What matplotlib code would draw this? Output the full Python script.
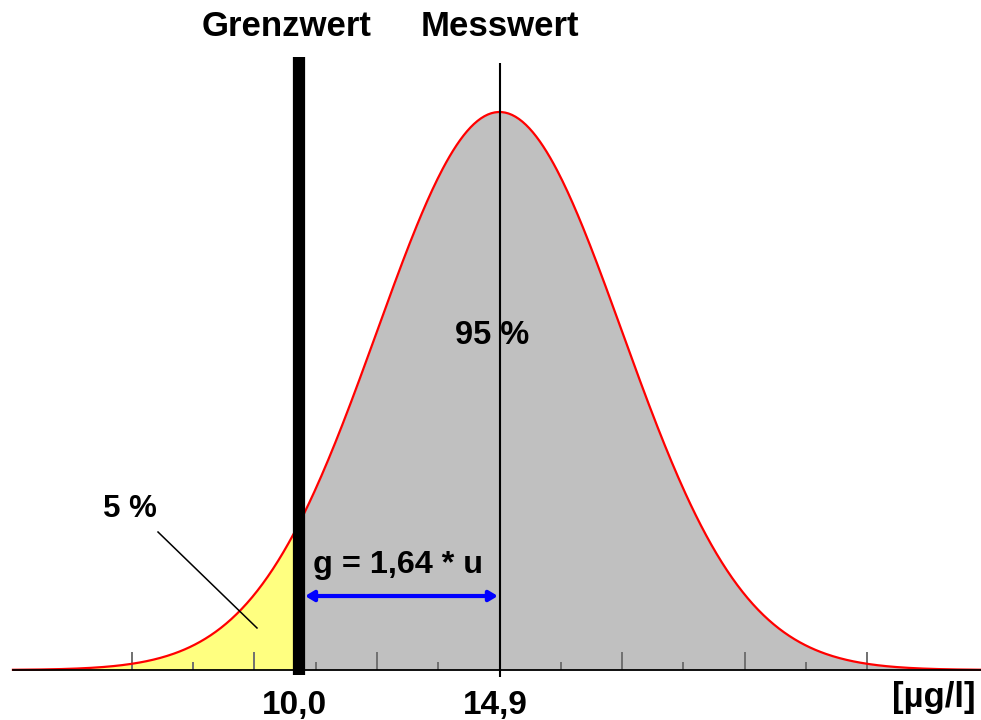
import numpy as np
import matplotlib
matplotlib.use('Agg')
import matplotlib.pyplot as plt

plt.rcParams['font.family'] = ['Liberation Sans', 'DejaVu Sans']

# values
grenzwert = 10.0          # limit value
messwert = 14.9           # measured value
k_factor = 1.64           # one-sided 95 % quantile
tick_labels = ['10,0', '14,9']
unit_label = '[µg/l]'
pct_inside = '95 %'
pct_outside = '5 %'

u = (messwert - grenzwert) / k_factor

x = np.linspace(messwert - 3.97 * u, messwert + 4.5 * u, 600)
dens = np.exp(-0.5 * ((x - messwert) / u) ** 2)

fig = plt.figure(figsize=(9.81, 7.2), dpi=100)
ax = fig.add_axes([0, 0, 1, 1])
ax.set_xlim(2.723, 26.638)
ax.set_ylim(-0.0896, 1.2007)

left = x <= grenzwert
ax.fill_between(x[left], 0, dens[left], color='#ffff80', lw=0, zorder=1)
ax.fill_between(x[~left], 0, dens[~left], color='#c0c0c0', lw=0, zorder=1)
ax.plot(x, dens, color='#ff0000', lw=1.6, zorder=2)

# vertical markers
ax.plot([grenzwert, grenzwert], [-0.009, 1.0986], color='black', lw=8.8,
        solid_capstyle='butt', zorder=4)
ax.plot([messwert, messwert], [-0.012, 1.088], color='black', lw=1.5,
        solid_capstyle='butt', zorder=4)

# axis line with ticks every u and half u
ax.spines['bottom'].set_position(('data', 0))
ax.spines['bottom'].set_bounds(messwert - 3.97 * u, 26.638)
ax.spines['bottom'].set_linewidth(1.3)
ax.spines['bottom'].set_zorder(3)
for s in ['top', 'left', 'right']:
    ax.spines[s].set_visible(False)
ax.set_xticks(messwert + np.arange(-3, 4) * u)
ax.set_xticks(messwert + np.arange(-2.5, 3, 1.0) * u, minor=True)
ax.tick_params(axis='x', which='major', direction='in', length=13, width=1.4,
               color='#707070', labelbottom=False)
ax.tick_params(axis='x', which='minor', direction='in', length=5.8, width=1.4,
               color='#707070', labelbottom=False)
ax.set_yticks([])

ax.text(grenzwert - 0.1, -0.063, tick_labels[0], ha='center', va='center',
        fontsize=24, fontweight='bold')
ax.text(messwert - 0.1, -0.063, tick_labels[1], ha='center', va='center',
        fontsize=24, fontweight='bold')
ax.text(26.5, -0.05, unit_label, ha='right', va='center',
        fontsize=25, fontweight='bold')

ax.text(grenzwert - 0.3, 1.153, 'Grenzwert', ha='center', va='center',
        fontsize=25, fontweight='bold')
ax.text(messwert, 1.153, 'Messwert', ha='center', va='center',
        fontsize=25, fontweight='bold')

ax.text(messwert - 0.18, 0.6, pct_inside, ha='center', va='center',
        fontsize=23.5, fontweight='bold')
ax.text(5.89, 0.288, pct_outside, ha='center', va='center',
        fontsize=22.5, fontweight='bold')
ax.plot([6.575, 8.988], [0.2473, 0.0753], color='black', lw=1.1, zorder=3)

ax.text(12.43, 0.188, 'g = 1,64 * u', ha='center', va='center',
        fontsize=23.3, fontweight='bold')
ax.annotate('', xy=(messwert - 0.04, 0.1326), xytext=(grenzwert + 0.16, 0.1326),
            arrowprops=dict(arrowstyle='<|-|>,head_length=0.5,head_width=0.3',
                            color='#0000ff', lw=3, shrinkA=0, shrinkB=0),
            zorder=5)

fig.savefig('out.png', dpi=100)
